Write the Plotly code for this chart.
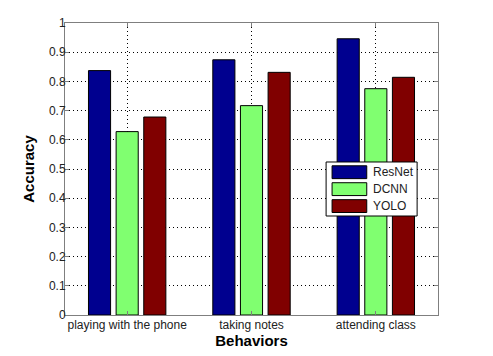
import plotly.graph_objects as go

behaviors = ["playing with the phone", "taking notes", "attending class"]
models = ["ResNet", "DCNN", "YOLO"]
resnet = [0.837, 0.874, 0.946]
dcnn = [0.628, 0.717, 0.775]
yolo = [0.678, 0.831, 0.814]
y_ticks = [0, 0.1, 0.2, 0.3, 0.4, 0.5, 0.6, 0.7, 0.8, 0.9, 1]
colors = ["#00008F", "#80FF70", "#800000"]

FONT = "Arial, Liberation Sans, sans-serif"

fig = go.Figure()
for name, vals, color in zip(models, [resnet, dcnn, yolo], colors):
    fig.add_trace(go.Bar(x=[1, 2, 3], y=vals, name=name,
                         marker=dict(color=color, line=dict(color="#000000", width=1))))

axis_common = dict(showline=True, linecolor="#7f7f7f", linewidth=1, mirror="ticks",
                   ticks="inside", ticklen=4, tickcolor="#7f7f7f", automargin=False,
                   showgrid=True, gridcolor="#000000", griddash="1px,3px", gridwidth=1,
                   zeroline=False, tickfont=dict(family=FONT, size=12, color="#222222"))

# legend box drawn by hand so the swatches are wide like the original
legend_shapes = [dict(type="rect", xref="paper", yref="paper", x0=0.700, x1=0.944, y0=0.339, y1=0.524,
                      line=dict(color="#000000", width=1), fillcolor="white", layer="above")]
legend_notes = []
for i, (name, color) in enumerate(zip(models, colors)):
    yc = 0.489 - i * 0.058
    legend_shapes.append(dict(type="rect", xref="paper", yref="paper", x0=0.716, x1=0.809,
                              y0=yc - 0.022, y1=yc + 0.022, fillcolor=color,
                              line=dict(color="#000000", width=1), layer="above"))
    legend_notes.append(dict(text=name, xref="paper", yref="paper", x=0.82, y=yc, xanchor="left",
                             yanchor="middle", showarrow=False,
                             font=dict(family=FONT, size=12, color="#222222")))

# page body adds 8px around the plot, so the margins are shifted to compensate
fig.update_layout(
    width=493, height=356,
    margin=dict(l=57, r=63, t=15, b=49),
    paper_bgcolor="white", plot_bgcolor="white",
    barmode="group", bargap=0.333, bargroupgap=0.2,
    font=dict(family=FONT),
    xaxis=dict(axis_common, range=[0.5, 3.5], tickvals=[1, 2, 3], ticktext=behaviors,
               ticklabelstandoff=-1,
               title=dict(text="<b>Behaviors</b>", font=dict(family=FONT, size=15, color="#000"), standoff=2)),
    yaxis=dict(axis_common, range=[0, 1], tickvals=y_ticks, ticktext=[f"{v:g}" for v in y_ticks],
               ticklabelstandoff=-4,
               title=dict(text="<b>Accuracy</b>", font=dict(family=FONT, size=15, color="#000"), standoff=10)),
    shapes=legend_shapes,
    annotations=legend_notes,
    showlegend=False,
)

fig.write_html("out.html")
